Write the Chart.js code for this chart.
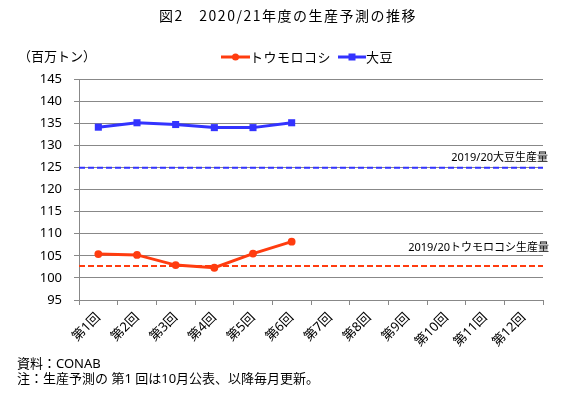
<!DOCTYPE html>
<html>
<head>
<meta charset="utf-8">
<script src="https://cdn.jsdelivr.net/npm/chart.js@4"></script>
<style>
  body { margin: 0; background: #fff; }
  canvas { display: block; }
</style>
</head>
<body>
<canvas id="prodChart" width="572" height="398"></canvas>
<script>
var rounds = ["第1回", "第2回", "第3回", "第4回", "第5回", "第6回",
              "第7回", "第8回", "第9回", "第10回", "第11回", "第12回"];
var corn = [105.4, 105.2, 102.9, 102.3, 105.5, 108.2];
var soy = [134.1, 135.1, 134.7, 134.0, 134.0, 135.1];
var corn1920 = 102.7;
var soy1920 = 124.9;
var yTicks = { min: 95, max: 145, step: 5 };

var RED = "#ff3c0f";
var BLUE = "#3333ff";
var JP = "'Noto Sans CJK JP', sans-serif";
var NUM = "'Noto Sans', 'Noto Sans CJK JP', sans-serif";

// titles, legend, reference labels and notes
var textPlugin = {
  id: "texts",
  afterDraw: function (chart) {
    var c = chart.ctx;
    var y = chart.scales.y;
    var x2 = chart.scales.x2;
    c.save();
    c.fillStyle = "#000";
    c.textBaseline = "middle";

    c.font = "14px " + JP;
    c.letterSpacing = "1.5px";
    c.textAlign = "center";
    c.fillText("図2　2020/21年度の生産予測の推移", 288, 16);
    c.letterSpacing = "0px";

    c.textAlign = "left";
    c.font = "13px " + JP;
    c.fillText("（百万トン）", 18, 56);

    // legend
    c.lineWidth = 3;
    c.strokeStyle = RED;
    c.beginPath(); c.moveTo(221, 57); c.lineTo(250, 57); c.stroke();
    c.fillStyle = RED;
    c.beginPath(); c.arc(235.5, 57, 3.5, 0, Math.PI * 2); c.fill();
    c.strokeStyle = BLUE;
    c.beginPath(); c.moveTo(338, 57); c.lineTo(366, 57); c.stroke();
    c.fillStyle = BLUE;
    c.fillRect(348.5, 53.5, 7, 7);
    c.fillStyle = "#000";
    c.font = "13px " + JP;
    c.letterSpacing = "0.5px";
    c.fillText("トウモロコシ", 250, 57);
    c.fillText("大豆", 366, 57);
    c.letterSpacing = "0px";

    // reference line labels
    c.font = "11px " + NUM;
    c.textAlign = "right";
    var xr = x2.getPixelForValue(12) + 5;
    c.fillText("2019/20大豆生産量", xr, y.getPixelForValue(soy1920) - 10);
    c.fillText("2019/20トウモロコシ生産量", xr + 1, y.getPixelForValue(corn1920) - 18);

    // notes
    c.textAlign = "left";
    c.font = "13px " + NUM;
    c.fillText("資料：CONAB", 17, 364);
    c.fillText("注：生産予測の 第1 回は10月公表、以降毎月更新。", 17, 379);
    c.restore();
  }
};

new Chart(document.getElementById("prodChart"), {
  type: "line",
  data: {
    labels: rounds,
    datasets: [
      {
        label: "トウモロコシ",
        data: corn,
        borderColor: RED,
        backgroundColor: RED,
        borderWidth: 3,
        pointStyle: "circle",
        pointRadius: 3.9,
        pointBorderWidth: 0,
        tension: 0,
      },
      {
        label: "大豆",
        data: soy,
        borderColor: BLUE,
        backgroundColor: BLUE,
        borderWidth: 3,
        pointStyle: "rect",
        pointRadius: 5,
        pointBorderWidth: 0,
        tension: 0,
      },
      {
        label: "2019/20大豆生産量",
        xAxisID: "x2",
        data: [{ x: 0, y: soy1920 }, { x: 12, y: soy1920 }],
        borderColor: BLUE,
        borderWidth: 2,
        borderDash: [6, 3],
        pointRadius: 0,
      },
      {
        label: "2019/20トウモロコシ生産量",
        xAxisID: "x2",
        data: [{ x: 0, y: corn1920 }, { x: 12, y: corn1920 }],
        borderColor: RED,
        borderWidth: 2,
        borderDash: [6, 3],
        pointRadius: 0,
      },
    ],
  },
  options: {
    responsive: false,
    animation: false,
    layout: { padding: { top: 79, right: 29, bottom: 0, left: 0 } },
    plugins: {
      legend: { display: false },
      tooltip: { enabled: false },
    },
    scales: {
      x: {
        type: "category",
        offset: true,
        afterFit: function (s) { s.height = 98; },
        grid: { drawOnChartArea: false, offset: true, tickLength: 5, color: "#888" },
        border: { color: "#888" },
        ticks: {
          minRotation: 45,
          maxRotation: 45,
          padding: 5,
          color: "#000",
          font: { size: 13, family: NUM },
        },
      },
      x2: { type: "linear", min: 0, max: 12, display: false },
      y: {
        min: yTicks.min,
        max: yTicks.max,
        afterFit: function (s) { s.width = 79; },
        grid: { color: "#888", tickLength: 5 },
        border: { color: "#888" },
        ticks: {
          stepSize: yTicks.step,
          padding: 12,
          color: "#000",
          font: { size: 13, family: NUM },
        },
      },
    },
  },
  plugins: [textPlugin],
});
</script>
</body>
</html>
